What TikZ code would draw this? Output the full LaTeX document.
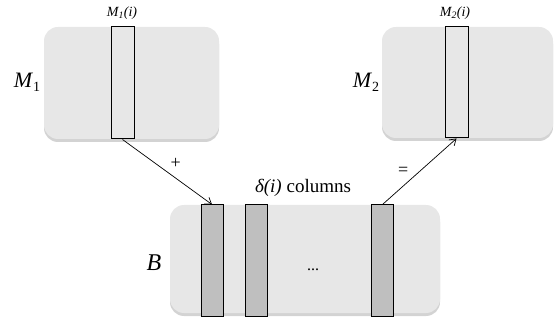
\documentclass[tikz,border=0pt]{standalone}
\usepackage{fontspec}
\setmainfont{Liberation Serif}
\usetikzlibrary{shadows,arrows.meta}
\begin{document}
\begin{tikzpicture}[x=1pt,y=-1pt,
  mat/.style={draw=none,rounded corners=14pt,fill=gray!19,inner sep=0pt,
    drop shadow={shadow xshift=0pt,shadow yshift=-3pt,opacity=0.35,fill=gray}},
  colw/.style={draw=black,line width=1pt,inner sep=0pt,minimum width=23pt},
  coldark/.style={colw,fill=gray!50},
  conn/.style={line width=0.7pt,-{Straight Barb[length=6pt,width=8pt]}},
  lbl/.style={inner sep=0pt,font=\fontsize{22}{24}\selectfont}
]
\useasboundingbox (0,0) rectangle (557,323);
% M1
\node[mat,minimum width=175pt,minimum height=112pt] (m1) at (131.5,83) {};
\node[colw,minimum height=112pt] (c1) at (122.5,83) {};
\node[inner sep=0pt,font=\fontsize{14}{16}\selectfont] (c1l) at (122,13) {\textit{M\textsubscript{1}(i)}};
\node[lbl] (m1l) at (27,82) {\textit{M}\raisebox{-4pt}{\fontsize{14}{14}\selectfont 1}};
% M2
\node[mat,minimum width=171pt,minimum height=111pt] (m2) at (467.5,82.5) {};
\node[colw,minimum height=111pt] (c2) at (456.5,82.5) {};
\node[inner sep=0pt,font=\fontsize{14}{16}\selectfont] (c2l) at (455,13) {\textit{M\textsubscript{2}(i)}};
\node[lbl] (m2l) at (366,82) {\textit{M}\raisebox{-4pt}{\fontsize{14}{14}\selectfont 2}};
% B
\node[mat,minimum width=270pt,minimum height=108pt] (b) at (305,259) {};
\node[coldark,minimum width=22pt,minimum height=111pt] (b1) at (212,260.5) {};
\node[coldark,minimum width=22pt,minimum height=111pt] (b2) at (256.5,260.5) {};
\node[coldark,minimum width=22pt,minimum height=111pt] (b3) at (382.5,260.5) {};
\node[lbl,font=\fontsize{24}{26}\selectfont] (bl) at (154,263) {\textit{B}};
\node[inner sep=0pt,font=\fontsize{16}{16}\selectfont] (dots) at (313,270) {...};
\node[inner sep=0pt,font=\fontsize{19}{20}\selectfont] (dl) at (303,188) {\textit{δ(i)} columns};
% connectors
\draw[conn] (c1.south) -- (b1.north) node[pos=0.5,above right,inner sep=3pt,font=\fontsize{18}{18}\selectfont] (plus) {+};
\draw[conn] (b3.north) -- (c2.south) node[pos=0.5,left=11pt,inner sep=0pt,font=\fontsize{18}{18}\selectfont] (eq) {=};
\end{tikzpicture}
\end{document}
